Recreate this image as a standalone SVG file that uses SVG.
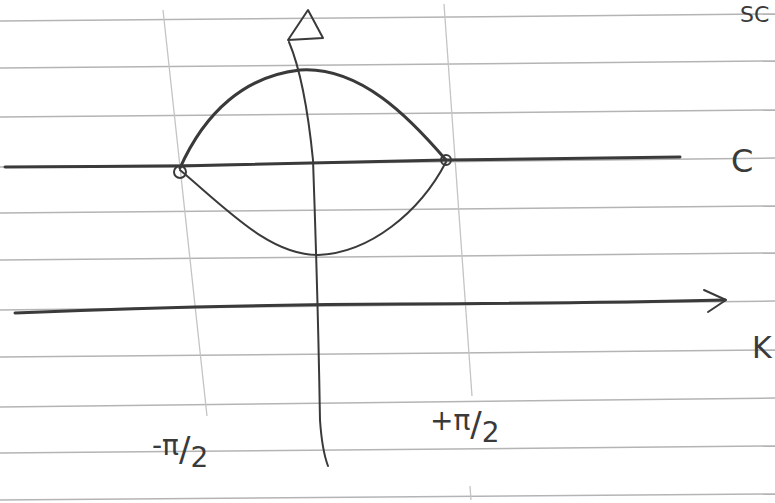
<svg xmlns="http://www.w3.org/2000/svg" width="775" height="503" viewBox="0 0 775 503">
<style>
.paper{stroke:#b4b4b4;stroke-width:1.5;fill:none}
.guide{stroke:#c4c4c4;stroke-width:1.3;fill:none}
.ink{stroke:#3a3a3a;stroke-width:2;fill:none;stroke-linecap:round;stroke-linejoin:round}
.thick{stroke:#3a3a3a;stroke-width:3;fill:none;stroke-linecap:round;stroke-linejoin:round}
.lbl{font-family:"DejaVu Sans","Liberation Sans",sans-serif;fill:#3a3a3a}
</style>
<rect width="775" height="503" fill="#ffffff"/>
<g id="paper-lines">
<line class="paper" x1="0" y1="21" x2="775" y2="14"/>
<line class="paper" x1="0" y1="68" x2="775" y2="61"/>
<line class="paper" x1="0" y1="117" x2="775" y2="110"/>
<line class="paper" x1="0" y1="167" x2="775" y2="158"/>
<line class="paper" x1="0" y1="213" x2="775" y2="206"/>
<line class="paper" x1="0" y1="260" x2="775" y2="253"/>
<line class="paper" x1="0" y1="310" x2="775" y2="301"/>
<line class="paper" x1="0" y1="357" x2="775" y2="350"/>
<line class="paper" x1="0" y1="407" x2="775" y2="398"/>
<line class="paper" x1="0" y1="453" x2="775" y2="446"/>
<line class="paper" x1="0" y1="500" x2="775" y2="494"/>
</g>
<g id="guides">
<line class="guide" x1="163" y1="10" x2="207" y2="416"/>
<line class="guide" x1="444" y1="4" x2="472" y2="396"/>
<line class="guide" x1="470" y1="486" x2="471" y2="500"/>
</g>
<g id="connectors">
<path id="c-axis" class="thick" d="M5 167 L180 166 L446 160 L680 157"/>
<path id="k-axis" class="thick" d="M15 313 Q200 305 400 304 T725 300"/>
<path id="k-arrow" class="ink" d="M704 290 L726 300 L708 312"/>
<path id="vert-axis" class="ink" d="M289 42 Q305 80 313 160 Q318 300 320 420 Q322 450 328 466"/>
<polygon id="vert-arrow" class="ink" points="288,40 308,10 323,38"/>
<path id="upper-curve" class="thick" d="M180 168 C205 112 245 76 300 70 C360 66 410 118 446 160"/>
<path id="lower-curve" class="ink" d="M180 170 C230 212 270 255 318 255 C370 253 420 212 446 162"/>
<circle id="node-left" class="ink" cx="180" cy="172" r="6"/>
<circle id="node-right" class="ink" cx="446" cy="160" r="5"/>
</g>
<g id="labels">
<text class="lbl" x="740" y="22" font-size="22">SC</text>
<text class="lbl" x="731" y="172" font-size="32">C</text>
<text class="lbl" x="752" y="358" font-size="30">K</text>
<text class="lbl" x="152" y="455" font-size="28">-π<tspan font-size="34" dy="6">/</tspan><tspan dy="6">2</tspan></text>
<text class="lbl" x="430" y="430" font-size="28">+π<tspan font-size="34" dy="6">/</tspan><tspan dy="6">2</tspan></text>
</g>
</svg>
